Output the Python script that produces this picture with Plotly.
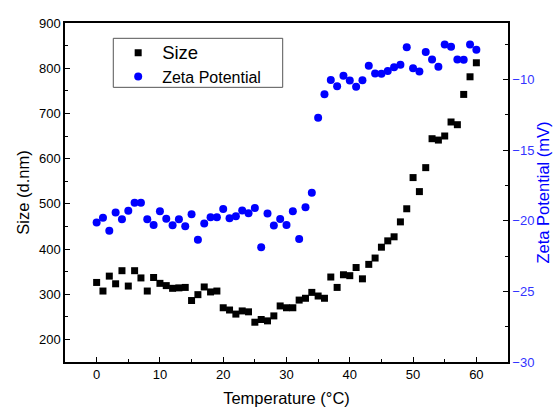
import plotly.graph_objects as go

temperature = list(range(0, 61))

size_dnm = [326, 307, 340, 323, 352, 318, 352, 336, 307, 337,
            324, 319, 313, 314, 315, 286, 299, 316, 305, 307,
            270, 265, 256, 263, 261, 238, 244, 241, 252, 274,
            270, 270, 287, 291, 304, 296, 291, 338, 315, 343,
            341, 359, 334, 366, 380, 404, 418, 427, 460, 489,
            558, 527, 580, 644, 641, 650, 681, 675, 742, 781, 812]

zeta_mv = [-20.13, -19.78, -20.7, -19.42, -19.9, -19.3, -18.73, -18.73, -19.9, -20.3,
           -19.33, -19.85, -20.32, -19.9, -20.39, -19.54, -21.35, -20.2, -19.75, -19.75,
           -19.16, -19.82, -19.68, -19.28, -19.47, -19.09, -21.88, -19.49, -20.34, -19.87,
           -20.3, -19.33, -21.3, -19.04, -18.02, -12.7, -11.05, -10.03, -10.48, -9.74,
           -10.07, -10.52, -10.05, -9.03, -9.57, -9.6, -9.39, -9.13, -8.96, -7.71,
           -9.2, -9.43, -8.06, -8.58, -9.1, -7.52, -7.69, -8.58, -8.61, -7.52, -7.9]

BLUE = "#0000ff"
LBLUE = "#3333ff"
FONT = "Liberation Sans, Arial, sans-serif"

fig = go.Figure()
fig.add_trace(go.Scatter(x=temperature, y=size_dnm, mode="markers",
                         name="<span style='font-size:18.5px'>Size</span>",
                         marker=dict(symbol="square", size=7, color="black"),
                         yaxis="y"))
fig.add_trace(go.Scatter(x=temperature, y=zeta_mv, mode="markers", name="Zeta Potential",
                         marker=dict(symbol="circle", size=8, color=BLUE),
                         yaxis="y2"))

# legend frame
fig.add_shape(type="rect", xref="paper", yref="paper",
              x0=0.109, x1=0.4914, y0=0.8102, y1=0.9548,
              line=dict(color="#555", width=1), fillcolor="rgba(0,0,0,0)", layer="above")

fig.update_layout(
    width=556, height=409,
    margin=dict(l=65, r=48, t=23, b=47),
    paper_bgcolor="white", plot_bgcolor="white",
    font=dict(family=FONT, size=13, color="black"),
    showlegend=True,
    legend=dict(x=0.111, y=0.962, xanchor="left", yanchor="top",
                borderwidth=0, bgcolor="rgba(0,0,0,0)",
                font=dict(size=16, family=FONT), itemwidth=38,
                tracegroupgap=0),
    xaxis=dict(range=[-5, 65], tickvals=[0, 10, 20, 30, 40, 50, 60],
               ticks="inside", ticklen=5, tickcolor="black", tickwidth=1,
               minor=dict(dtick=5, tick0=0, ticks="inside", ticklen=3, tickcolor="black"),
               showline=True, linecolor="black", linewidth=1.5, mirror=True,
               showgrid=False, zeroline=False, automargin=False,
               tickfont=dict(size=13),
               title=dict(text="Temperature (°C)", font=dict(size=16.5), standoff=11)),
    yaxis=dict(range=[150, 900], tickvals=[200, 300, 400, 500, 600, 700, 800, 900],
               ticks="inside", ticklen=5, tickcolor="black",
               minor=dict(dtick=50, tick0=150, ticks="inside", ticklen=3, tickcolor="black"),
               showline=True, linecolor="black", linewidth=1.5,
               showgrid=False, zeroline=False, automargin=False,
               tickfont=dict(size=13),
               title=dict(text="Size (d.nm)", font=dict(size=16.5), standoff=5)),
    yaxis2=dict(range=[-30, -6], tickvals=[-30, -25, -20, -15, -10],
                overlaying="y", side="right", anchor="x",
                ticks="inside", ticklen=5, tickcolor="black",
                minor=dict(dtick=2.5, tick0=-30, ticks="inside", ticklen=3, tickcolor="black"),
                showline=True, linecolor="black", linewidth=1.5,
                showgrid=False, zeroline=False, automargin=False,
                tickfont=dict(size=13, color=LBLUE),
                title=dict(text="Zeta Potential (mV)", font=dict(size=16.5, color=BLUE), standoff=3)),
)

fig.write_html("out.html", config={"displayModeBar": False},
               post_script="document.body.style.margin='0px';")
